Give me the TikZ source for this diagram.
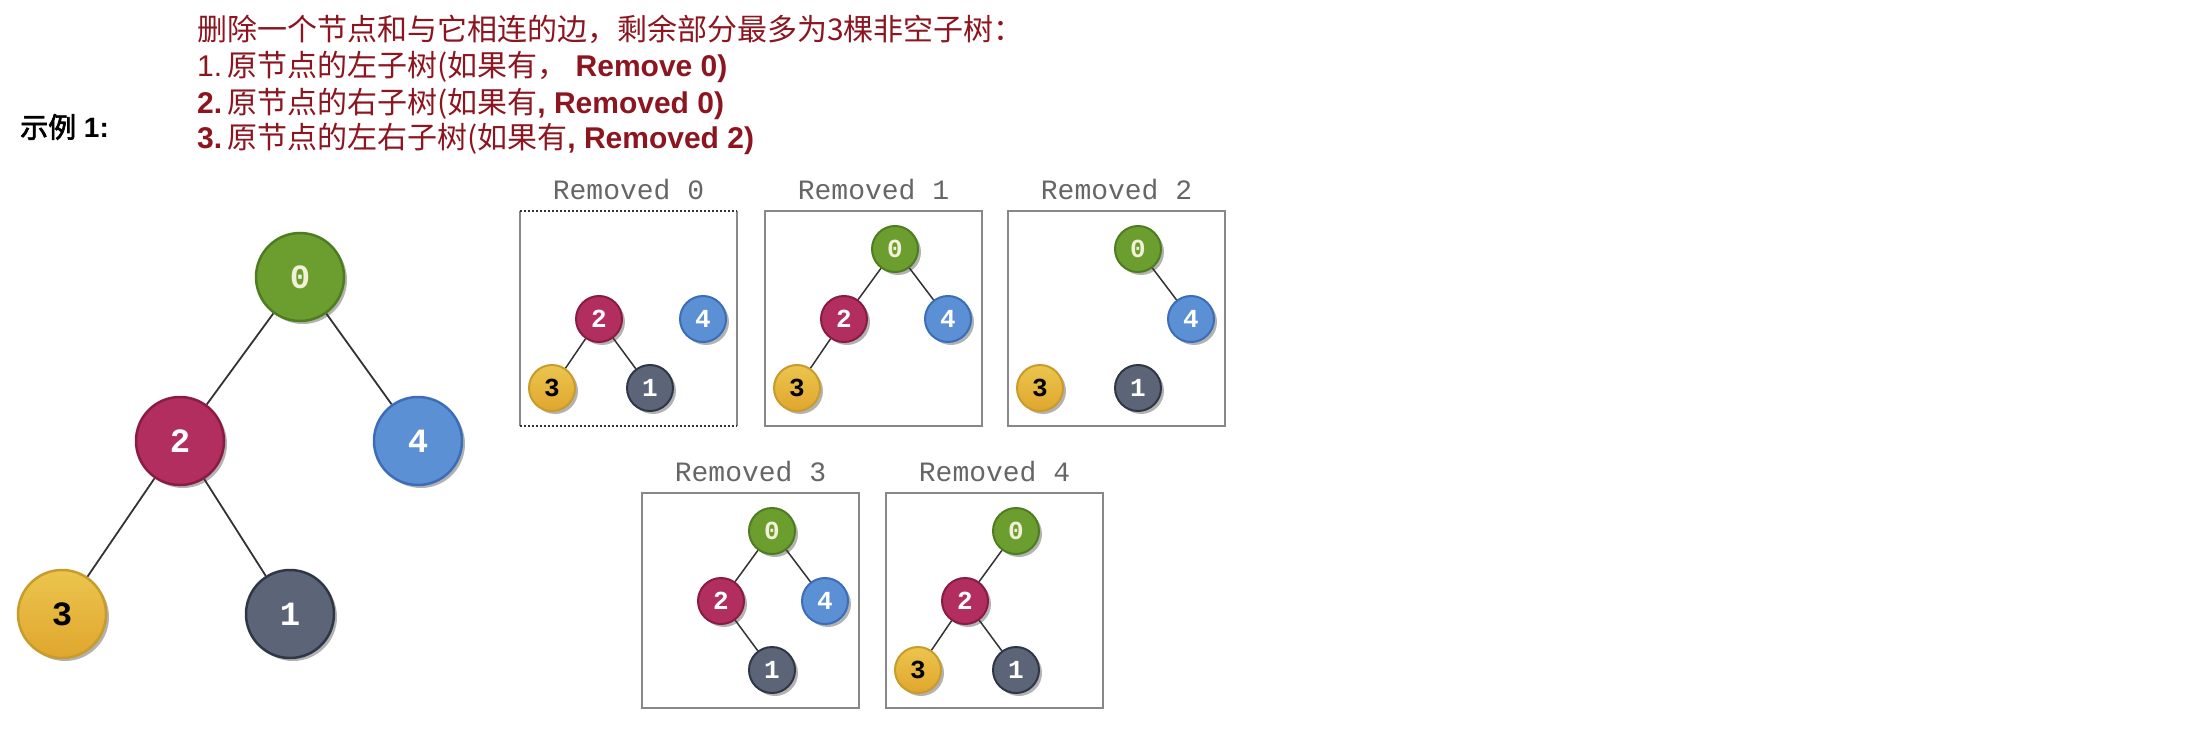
\documentclass[tikz,border=0pt]{standalone}
\usepackage{fontspec}
\setmainfont{Liberation Sans}
\setmonofont{Liberation Mono}
\newfontfamily\cjk{Noto Sans CJK SC}
\newfontfamily\cjkb[FakeBold=2.5]{Noto Sans CJK SC}
\usetikzlibrary{shadows}
\definecolor{hdr}{HTML}{8C1520}
\definecolor{g0}{HTML}{6B9E2F}\definecolor{g0d}{HTML}{4E7D1F}\definecolor{g0t}{HTML}{F2F0D8}
\definecolor{r2}{HTML}{B22E5F}\definecolor{r2d}{HTML}{8A1C44}
\definecolor{b4}{HTML}{5B90D5}\definecolor{b4d}{HTML}{3B6DB8}
\definecolor{y3a}{HTML}{EBC54E}\definecolor{y3b}{HTML}{E0A62E}\definecolor{y3d}{HTML}{C99C2A}
\definecolor{s1}{HTML}{5B6577}\definecolor{s1d}{HTML}{2F3746}
\definecolor{edgec}{HTML}{333333}
\definecolor{boxc}{HTML}{888888}
\definecolor{lblc}{HTML}{666666}
\tikzset{
  nd/.style={circle, inner sep=0pt, drop shadow={shadow xshift=3pt, shadow yshift=-3pt, opacity=0.3, fill=black}},
  bignd/.style={nd, minimum size=88pt, line width=2.5pt, font=\ttfamily\bfseries\fontsize{34}{34}\selectfont},
  smallnd/.style={nd, minimum size=46pt, line width=2pt, font=\ttfamily\bfseries\fontsize{26}{26}\selectfont},
  c0/.style={fill=g0, draw=g0d, text=g0t},
  c1/.style={fill=s1, draw=s1d, text=white},
  c2/.style={fill=r2, draw=r2d, text=white},
  c3/.style={top color=y3a, bottom color=y3b, draw=y3d, text=black},
  c4/.style={fill=b4, draw=b4d, text=white},
  edge/.style={draw=edgec, line width=1.8pt},
  sedge/.style={draw=edgec, line width=1.5pt},
  lbl/.style={font=\ttfamily\fontsize{28}{28}\selectfont, text=lblc, inner sep=0pt},
  boxs/.style={draw=boxc, line width=2pt},
  hd/.style={anchor=west, inner sep=0pt, text=hdr, font=\fontsize{30}{36}\selectfont}
}
\begin{document}
\begin{tikzpicture}[x=1pt,y=-1pt]
\useasboundingbox[fill=white] (0,0) rectangle (2208,730);
% header
\node[hd] (h1) at (197,29) {{\cjk 删除一个节点和与它相连的边，剩余部分最多为3棵非空子树：}};
\node[hd] (h2) at (197,67) {1.\,{\cjk 原节点的左子树(如果有，} \textbf{Remove 0)}};
\node[hd] (h3) at (197,104) {\textbf{2.}\,{\cjk 原节点的右子树(如果有}\textbf{, Removed 0)}};
\node[hd] (h4) at (197,139) {\textbf{3.}\,{\cjk 原节点的左右子树(如果有}\textbf{, Removed 2)}};
\node[anchor=west, inner sep=0pt, font=\fontsize{28}{34}\selectfont] (ex) at (20,127) {{\cjkb 示例} \textbf{1:}};
% big tree
\node[bignd, c0] (b0) at (300,277) {0};
\node[bignd, c2] (b2) at (180,441) {2};
\node[bignd, c4] (b4) at (418,441) {4};
\node[bignd, c3] (b3) at (62,614) {3};
\node[bignd, c1] (b1) at (290,614) {1};
\draw[edge] (b0) -- (b2);
\draw[edge] (b0) -- (b4);
\draw[edge] (b2) -- (b3);
\draw[edge] (b2) -- (b1);
% Removed 0
\begin{scope}[shift={(520,211)}]
\draw[boxs] (0,0) -- (0,215) (217,0) -- (217,215);
\draw[draw=edgec, line width=2pt, dotted] (0,0) -- (217,0) (0,215) -- (217,215);
\node[lbl] (l0) at (108.5,-21) {Removed 0};
\node[smallnd, c2] (a2) at (79,108) {2};
\node[smallnd, c4] (a4) at (183,108) {4};
\node[smallnd, c3] (a3) at (32,177) {3};
\node[smallnd, c1] (a1) at (130,177) {1};
\draw[sedge] (a2) -- (a3);
\draw[sedge] (a2) -- (a1);
\end{scope}
% Removed 1
\begin{scope}[shift={(765,211)}]
\draw[boxs] (0,0) rectangle (217,215);
\node[lbl] (l1) at (108.5,-21) {Removed 1};
\node[smallnd, c0] (c0n) at (130,38) {0};
\node[smallnd, c2] (c2n) at (79,108) {2};
\node[smallnd, c4] (c4n) at (183,108) {4};
\node[smallnd, c3] (c3n) at (32,177) {3};
\draw[sedge] (c0n) -- (c2n);
\draw[sedge] (c0n) -- (c4n);
\draw[sedge] (c2n) -- (c3n);
\end{scope}
% Removed 2
\begin{scope}[shift={(1008,211)}]
\draw[boxs] (0,0) rectangle (217,215);
\node[lbl] (l2) at (108.5,-21) {Removed 2};
\node[smallnd, c0] (d0) at (130,38) {0};
\node[smallnd, c4] (d4) at (183,108) {4};
\node[smallnd, c3] (d3) at (32,177) {3};
\node[smallnd, c1] (d1) at (130,177) {1};
\draw[sedge] (d0) -- (d4);
\end{scope}
% Removed 3
\begin{scope}[shift={(642,493)}]
\draw[boxs] (0,0) rectangle (217,215);
\node[lbl] (l3) at (108.5,-21) {Removed 3};
\node[smallnd, c0] (e0) at (130,38) {0};
\node[smallnd, c2] (e2) at (79,108) {2};
\node[smallnd, c4] (e4) at (183,108) {4};
\node[smallnd, c1] (e1) at (130,177) {1};
\draw[sedge] (e0) -- (e2);
\draw[sedge] (e0) -- (e4);
\draw[sedge] (e2) -- (e1);
\end{scope}
% Removed 4
\begin{scope}[shift={(886,493)}]
\draw[boxs] (0,0) rectangle (217,215);
\node[lbl] (l4) at (108.5,-21) {Removed 4};
\node[smallnd, c0] (f0) at (130,38) {0};
\node[smallnd, c2] (f2) at (79,108) {2};
\node[smallnd, c3] (f3) at (32,177) {3};
\node[smallnd, c1] (f1) at (130,177) {1};
\draw[sedge] (f0) -- (f2);
\draw[sedge] (f2) -- (f3);
\draw[sedge] (f2) -- (f1);
\end{scope}
\end{tikzpicture}
\end{document}
